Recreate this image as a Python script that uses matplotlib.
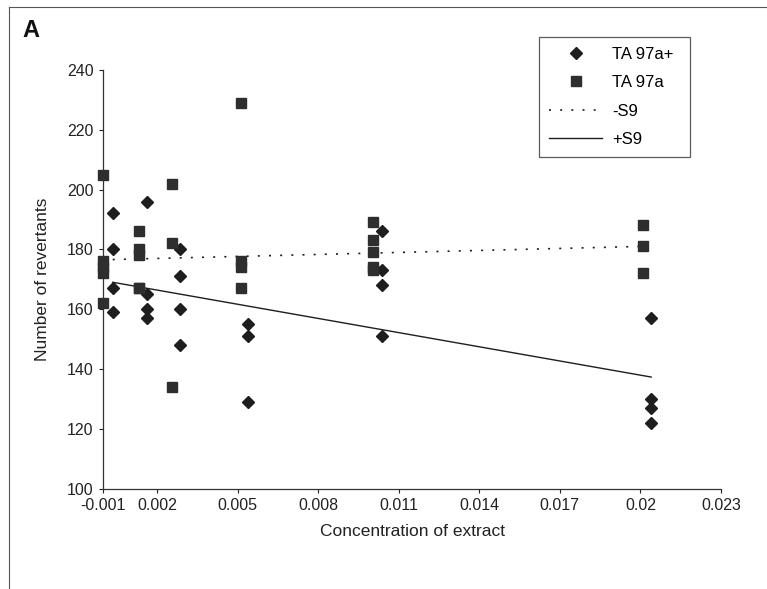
import matplotlib.pyplot as plt
from matplotlib.lines import Line2D

# ------------------------
# Data
# ------------------------
# TA 97a (squares)
sq_x = [0.0, 0.0, 0.0, 0.0, 0.0,
        0.00133, 0.00133, 0.00133, 0.00133, 0.00133,
        0.00256, 0.00256, 0.00256,
        0.00513, 0.00513, 0.00513, 0.00513,
        0.01004, 0.01004, 0.01004, 0.01004, 0.01004,
        0.0201, 0.0201, 0.0201]
sq_y = [205, 176, 174, 172, 162,
        186, 180, 178, 167, 167,
        202, 182, 134,
        229, 176, 174, 167,
        189, 183, 179, 174, 173,
        188, 181, 172]

# TA 97a+ (diamonds)
dm_x = [0.00035, 0.00035, 0.00035, 0.00035,
        0.00164, 0.00164, 0.00164, 0.00164,
        0.00287, 0.00287, 0.00287, 0.00287,
        0.00539, 0.00539, 0.00539,
        0.01038, 0.01038, 0.01038, 0.01038,
        0.0204, 0.0204, 0.0204, 0.0204]
dm_y = [192, 180, 167, 159,
        196, 165, 160, 157,
        180, 171, 160, 148,
        155, 151, 129,
        186, 173, 168, 151,
        157, 130, 127, 122]

# trend lines
minus_s9_x = [0.00035, 0.0201]
minus_s9_y = [176.6, 181.0]
plus_s9_x = [0.00035, 0.0204]
plus_s9_y = [169.0, 137.3]

xtick_pos = [0.0, 0.002, 0.005, 0.008, 0.011, 0.014, 0.017, 0.02, 0.023]
xtick_labels = ['-0.001', '0.002', '0.005', '0.008', '0.011', '0.014', '0.017', '0.02', '0.023']
ytick_pos = [100, 120, 140, 160, 180, 200, 220, 240]

# ------------------------
# Plot
# ------------------------
plt.rcParams['font.family'] = ['Liberation Sans', 'DejaVu Sans']

fig = plt.figure(figsize=(7.67, 5.89), dpi=100)
ax = fig.add_axes([0.1347, 0.1705, 0.8053, 0.7107])

ink = '#1e1e1e'
ax.plot(dm_x, dm_y, linestyle='none', marker='D', markersize=6.5,
        color=ink, label='TA 97a+', clip_on=False, zorder=3)
ax.plot(sq_x, sq_y, linestyle='none', marker='s', markersize=7.5,
        color='#2e2e2e', label='TA 97a', clip_on=False, zorder=3)
ax.plot(minus_s9_x, minus_s9_y, linestyle=(0, (1.2, 5.5)), color=ink,
        linewidth=1.2, label='-S9')
ax.plot(plus_s9_x, plus_s9_y, linestyle='-', color=ink,
        linewidth=1.0, label='+S9')

ax.set_xlim(0, 0.023)
ax.set_ylim(100, 240)
ax.set_xticks(xtick_pos)
ax.set_xticklabels(xtick_labels)
ax.set_yticks(ytick_pos)

for side in ['top', 'right']:
    ax.spines[side].set_visible(False)
for side in ['left', 'bottom']:
    ax.spines[side].set_linewidth(0.9)
    ax.spines[side].set_color('#333333')

ax.tick_params(axis='both', direction='out', length=3, width=0.8,
               labelsize=11.5, colors='#222222', pad=4)

ax.set_xlabel('Concentration of extract', fontsize=12.5, labelpad=8, color='#222222')
ax.set_ylabel('Number of revertants', fontsize=12.5, labelpad=12, color='#222222')

leg = fig.legend(loc='upper left', bbox_to_anchor=(0.7027, 0.7317, 0.1969, 0.2055),
                 mode='expand', fontsize=12, frameon=True, fancybox=False,
                 edgecolor='#333333', handlelength=3.2, handletextpad=0.6,
                 labelspacing=0.8, borderpad=0.6, borderaxespad=0)
leg.get_frame().set_linewidth(0.9)

# panel letter
fig.text(0.029, 0.948, 'A', fontsize=17, fontweight='bold', ha='left', va='center',
         color='#111111')

# chart border (top and left)
fig.add_artist(Line2D([9 / 767, 1.0], [1 - 7 / 589, 1 - 7 / 589],
                      transform=fig.transFigure, color='#555555', linewidth=0.8))
fig.add_artist(Line2D([9 / 767, 9 / 767], [0.0, 1 - 7 / 589],
                      transform=fig.transFigure, color='#555555', linewidth=0.8))

fig.savefig('out.png', dpi=100)
